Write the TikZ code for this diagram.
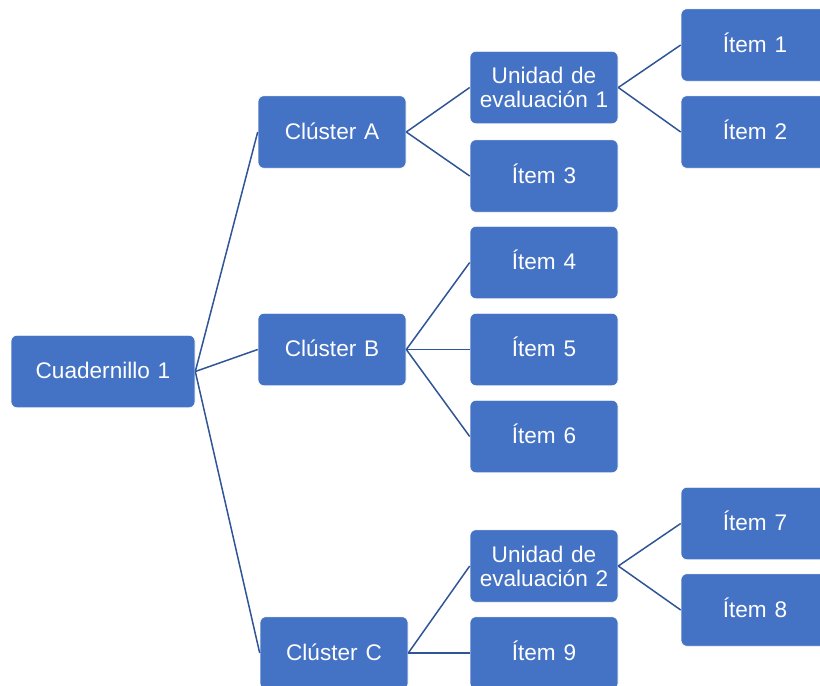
\documentclass[tikz,border=0pt]{standalone}
\usepackage{fontspec}
\setmainfont{Liberation Sans}
\definecolor{boxblue}{RGB}{68,114,196}
\definecolor{linkblue}{RGB}{47,85,151}
\newcommand\boxfont{\fontsize{22.6}{24}\selectfont\spaceskip=7.8pt plus 1pt\relax}
\begin{document}
\begin{tikzpicture}[x=1pt,y=-1pt,
  box/.style={rectangle, rounded corners=6pt, fill=boxblue, draw=white, line width=0.6pt,
    minimum width=148pt, minimum height=72.5pt, inner sep=2pt, text=white, align=center,
    font=\boxfont},
  oneline/.style={box, text height=18pt, text depth=4pt},
  link/.style={draw=linkblue, line width=1.5pt}]
\useasboundingbox (0,0) rectangle (820,686);
\clip (0,0) rectangle (820,686);
% level 0
\node[oneline, minimum width=184pt] (c1) at (103,371.5) {Cuadernillo 1};
% clusters
\node[oneline] (ca) at (332,132) {Clúster A};
\node[oneline] (cb) at (332,349.5) {Clúster B};
\node[oneline] (cc) at (334,653) {Clúster C};
% units and items under clusters
\node[box] (u1) at (544,87.5) {Unidad de\\evaluación 1};
\node[oneline] (i3) at (544,176) {Ítem 3};
\node[oneline] (i4) at (544,262.5) {Ítem 4};
\node[oneline] (i5) at (544,349.5) {Ítem 5};
\node[oneline] (i6) at (544,436.5) {Ítem 6};
\node[box] (u2) at (544,566) {Unidad de\\evaluación 2};
\node[oneline] (i9) at (544,653) {Ítem 9};
% items under units
\node[oneline] (i1) at (755,45) {Ítem 1};
\node[oneline] (i2) at (755,132) {Ítem 2};
\node[oneline] (i7) at (755,523.5) {Ítem 7};
\node[oneline] (i8) at (755,610) {Ítem 8};
% connectors
\foreach \a/\b in {c1/ca, c1/cb, c1/cc, ca/u1, ca/i3, cb/i4, cb/i5, cb/i6, cc/u2, cc/i9, u1/i1, u1/i2, u2/i7, u2/i8}
  \draw[link] (\a.east) -- (\b.west);
\end{tikzpicture}
\end{document}
